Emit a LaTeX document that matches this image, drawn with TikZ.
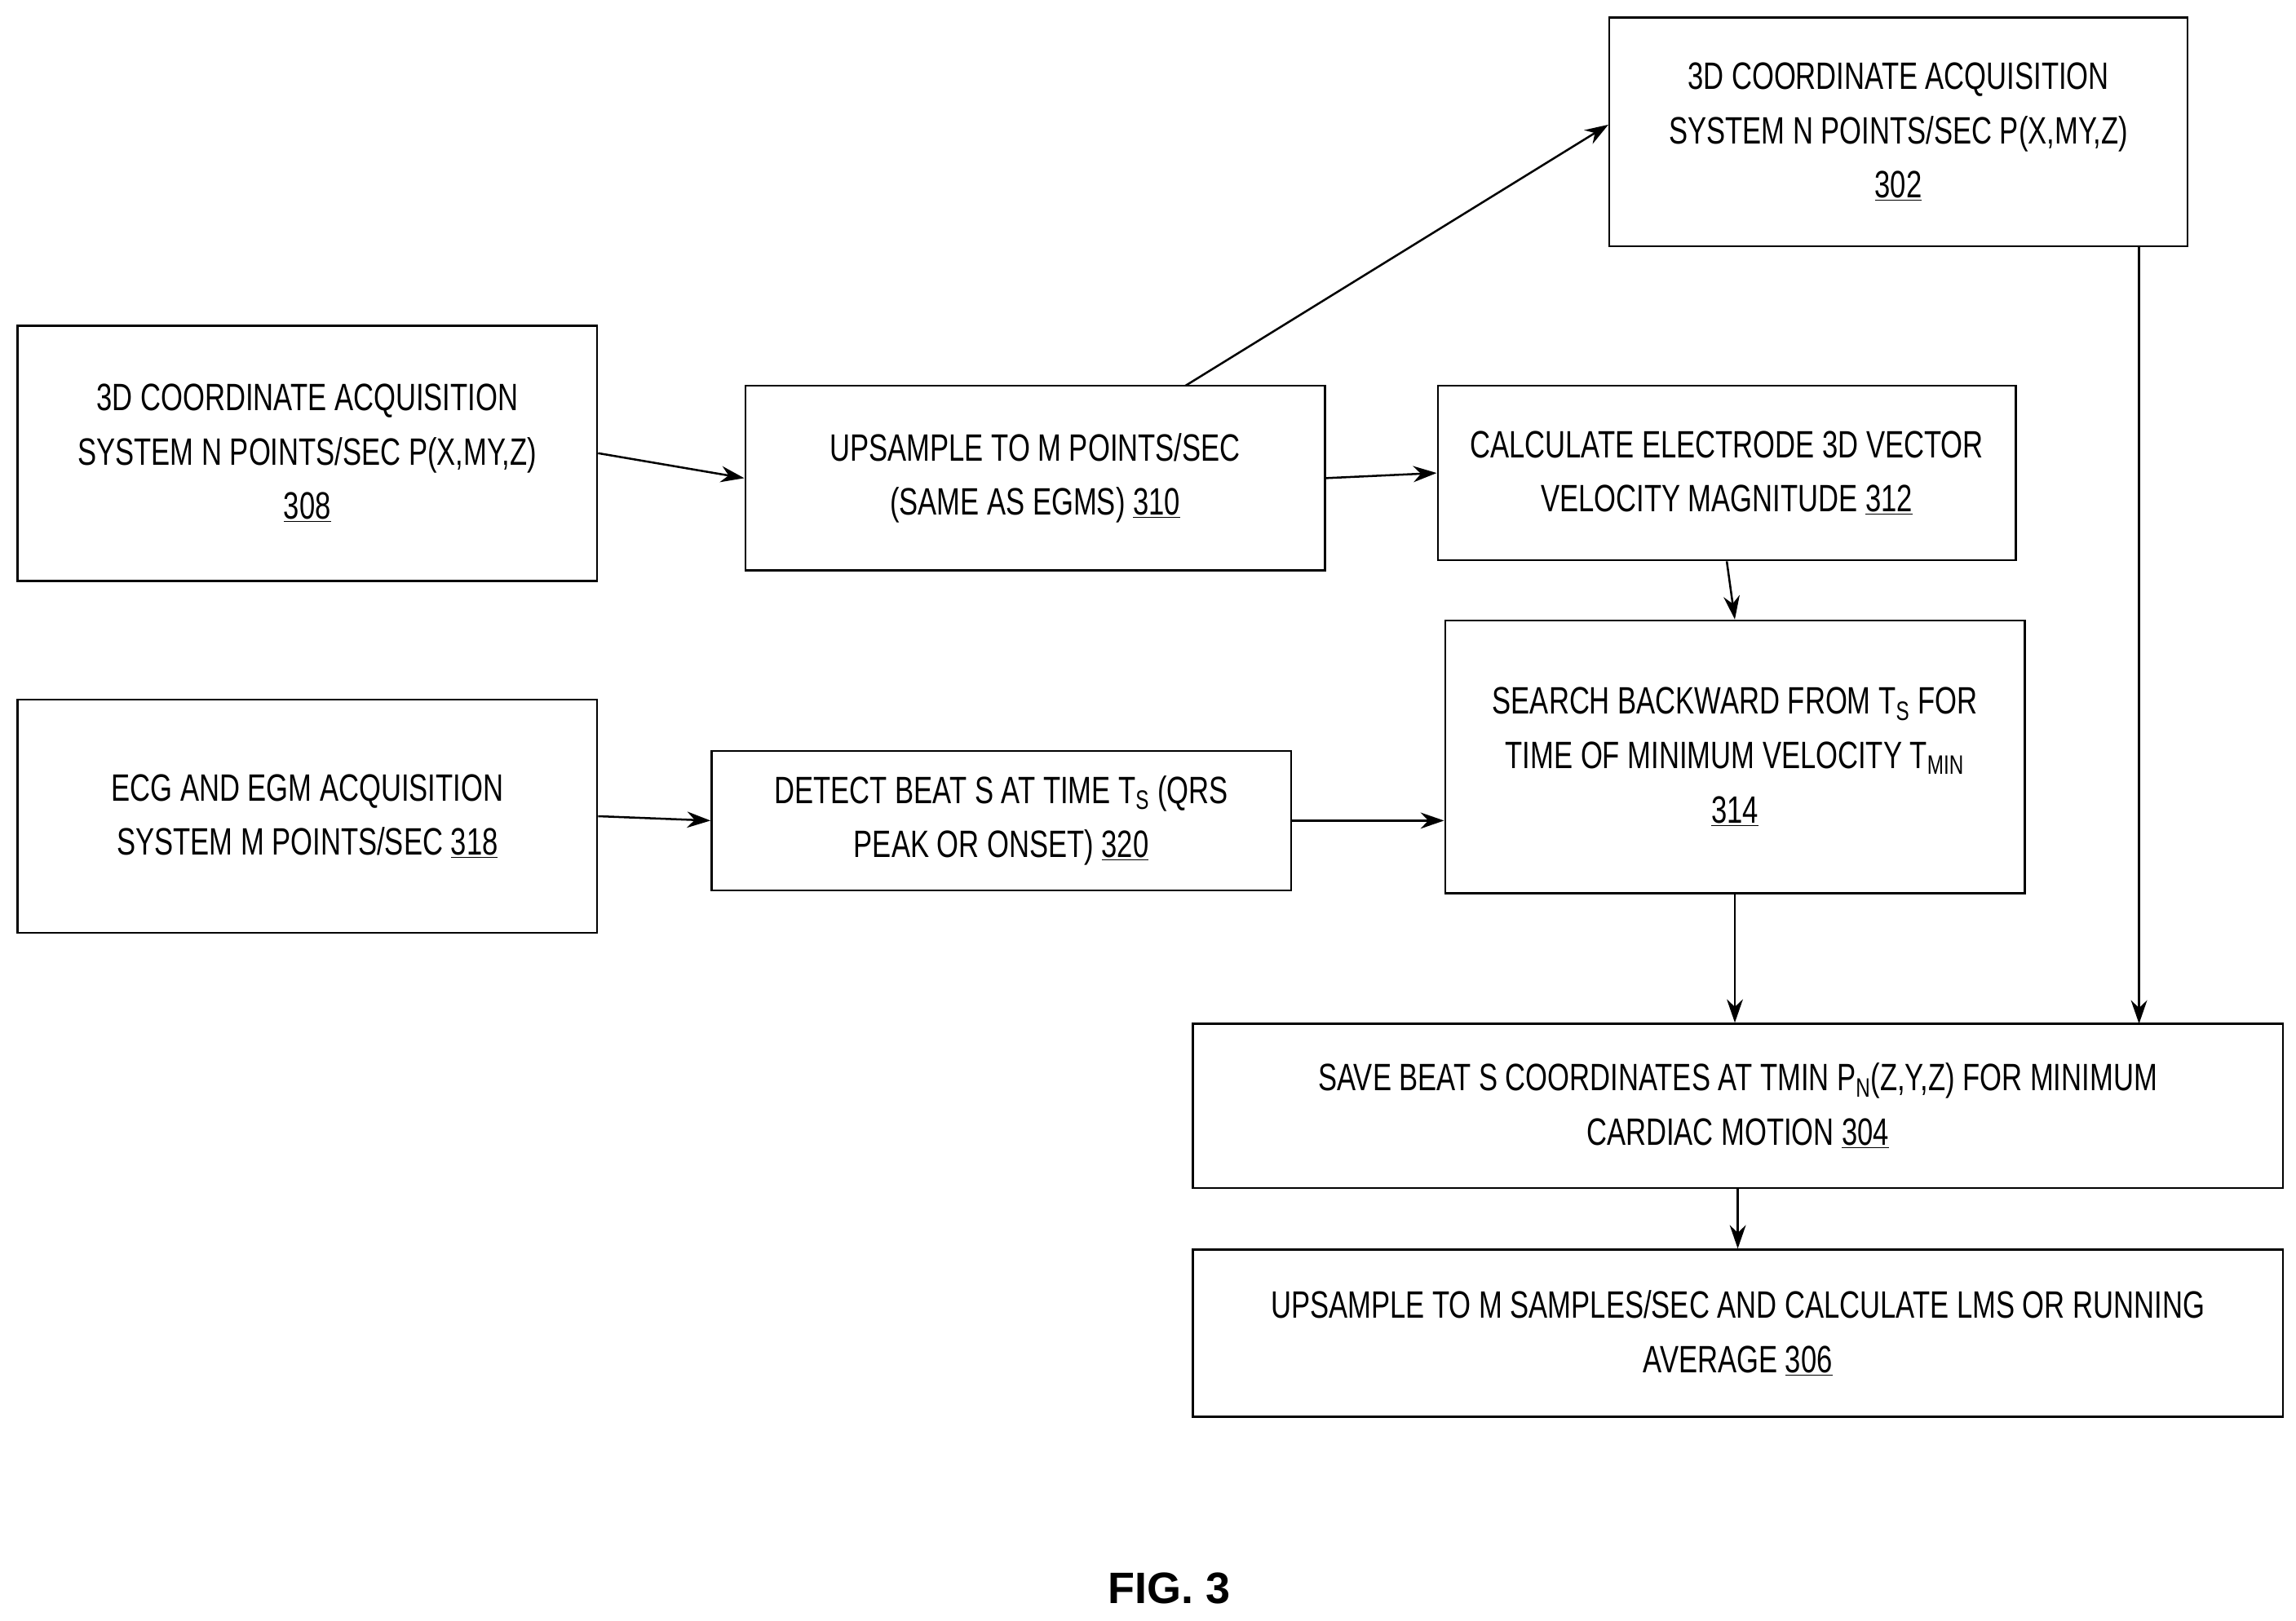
\documentclass[tikz,border=0pt]{standalone}
\usepackage{fontspec}
\setmainfont{Liberation Sans}[FakeStretch=0.74]
\newfontfamily\figfont{Liberation Sans}
\usetikzlibrary{arrows.meta}
\begin{document}
\begin{tikzpicture}[x=1pt,y=-1pt,
 box/.style={draw,line width=1.4pt,align=center,font=\fontsize{26}{37}\selectfont,inner sep=0pt},
 arr/.style={line width=1.4pt,-{Stealth[length=16pt,width=11pt]}}]
\useasboundingbox (0,0) rectangle (1565,1105);
\newcommand{\bx}[6]{\node[box,minimum width=#4-#2,minimum height=#5-#3] (#1) at ({(#2+#4)/2},{(#3+#5)/2}) {#6};}
\bx{b302}{1097}{12}{1491}{168}{3D COORDINATE ACQUISITION\\SYSTEM N POINTS/SEC P(X,MY,Z)\\\underline{302}}
\bx{b308}{12}{222}{407}{396}{3D COORDINATE ACQUISITION\\SYSTEM N POINTS/SEC P(X,MY,Z)\\\underline{308}}
\bx{b310}{508}{263}{903}{389}{UPSAMPLE TO M POINTS/SEC\\(SAME AS EGMS) \underline{310}}
\bx{b312}{980}{263}{1374}{382}{CALCULATE ELECTRODE 3D VECTOR\\VELOCITY MAGNITUDE \underline{312}}
\bx{b314}{985}{423}{1380}{609}{SEARCH BACKWARD FROM T\textsubscript{S} FOR\\TIME OF MINIMUM VELOCITY T\textsubscript{MIN}\\\underline{314}}
\bx{b318}{12}{477}{407}{636}{ECG AND EGM ACQUISITION\\SYSTEM M POINTS/SEC \underline{318}}
\bx{b320}{485}{512}{880}{607}{DETECT BEAT S AT TIME T\textsubscript{S} (QRS\\PEAK OR ONSET) \underline{320}}
\bx{b304}{813}{698}{1556}{810}{SAVE BEAT S COORDINATES AT TMIN P\textsubscript{N}(Z,Y,Z) FOR MINIMUM\\CARDIAC MOTION \underline{304}}
\bx{b306}{813}{852}{1556}{966}{UPSAMPLE TO M SAMPLES/SEC AND CALCULATE LMS OR RUNNING\\AVERAGE \underline{306}}
\node[font=\figfont\bfseries\fontsize{30}{36}\selectfont] (fig) at (797,1083) {FIG. 3};
\draw[arr] (b308.east) -- (b310.west);
\draw[arr] (b310.east) -- (b312.west);
\draw[arr] (808,263) coordinate (s1) -- (b302.west |- 0,85) coordinate (e1);
\draw[arr] (b312.south) -- (b314.north);
\draw[arr] (b318.east) -- (b320.west);
\draw[arr] (b320.east) -- (b314.west |- b320.east);
\draw[arr] (b314.south) -- (b304.north -| b314.south);
\draw[arr] (1458,168) coordinate (s2) -- (1458,698) coordinate (e2);
\draw[arr] (b304.south) -- (b306.north);
\end{tikzpicture}
\end{document}
